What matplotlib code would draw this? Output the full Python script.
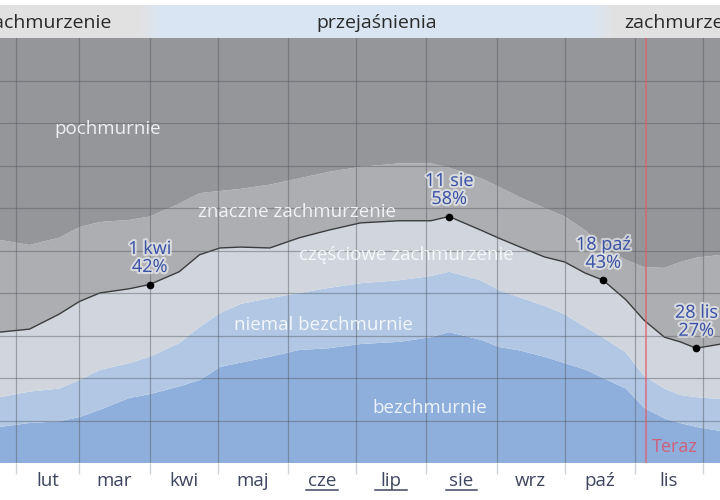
import numpy as np
import matplotlib.pyplot as plt
import matplotlib.patheffects as pe

# dane: dzien roku (0 = 1 sty) i granice pasm zachmurzenia w %
days = [24, 37, 50, 59, 68, 81, 90, 103, 112, 121, 130, 143, 156, 169, 183,
        200, 214, 222, 236, 244, 253, 264, 273, 282, 290, 300, 308, 317, 324, 331, 342]
clear = [8.5, 9.4, 9.8, 10.8, 12.5, 15.3, 16.2, 18, 19.5, 22.6, 23.6, 25, 26.6, 27, 28,
         28.5, 29.6, 30.8, 29, 27.3, 26.5, 25, 23.5, 22, 20, 17.5, 13, 10.5, 9.4, 8.5, 7.5]
mostly_clear = [15.5, 16.8, 17.5, 19.5, 21.9, 23.5, 25, 28.2, 32, 35.3, 37.4, 38.8, 40, 41.2, 42.3,
                43, 44, 45, 43, 40.7, 39, 37, 35, 32, 29.5, 26, 20.5, 17.5, 16, 15.5, 15]
partly = [30.8, 31.5, 35, 38, 40, 41, 42, 45, 49, 50.6, 50.8, 50.6, 53, 54.8, 56.5,
          57, 57, 58, 54.8, 52.9, 50.9, 48.5, 47.3, 44.7, 43, 38.4, 33.6, 29.6, 28.5, 27, 28]
mostly_cloudy = [52.5, 51.3, 53, 55.5, 56.7, 57.2, 58, 61, 63.5, 64, 64.5, 65.5, 67, 68.5, 69.7,
                 70.5, 70.5, 69.5, 67, 65, 62.6, 60, 58, 54.8, 50.8, 47.8, 46.1, 45.9, 47.3, 48.3, 49]

months = ['sty', 'lut', 'mar', 'kwi', 'maj', 'cze', 'lip', 'sie', 'wrz', 'paź', 'lis', 'gru']
month_start = [0, 31, 59, 90, 120, 151, 181, 212, 243, 273, 304, 334, 365]
summer = ['cze', 'lip', 'sie']

marks = [(90, 42, '1 kwi'), (222, 58, '11 sie'), (290, 43, '18 paź'), (331, 27, '28 lis')]
now_day = 309

plt.rcParams['font.family'] = ['Open Sans', 'DejaVu Sans']

fig = plt.figure(figsize=(7.2, 5), dpi=100)
ax = fig.add_axes([0, 0.074, 1, 0.85])
top = fig.add_axes([0, 0.924, 1, 0.066])
x0, x1 = 24, 341.5

x = np.array(days)
cols = ['#8eaedc', '#b1c7e4', '#d0d5de', '#acaeb2', '#94969a']
bounds = [np.zeros(len(x)), np.array(clear), np.array(mostly_clear),
          np.array(partly), np.array(mostly_cloudy), np.full(len(x), 100.0)]
for i in range(5):
    ax.fill_between(x, bounds[i], bounds[i + 1], color=cols[i], lw=0)

ax.plot(x, partly, color='#3c3c3c', lw=1)

for m in month_start:
    ax.axvline(m, color='#55595f', lw=0.9, alpha=0.45)
for g in range(10, 100, 10):
    ax.axhline(g, color='#55595f', lw=0.9, alpha=0.45)
ax.set_xticks(month_start)
ax.set_xticklabels([])
ax.tick_params(axis='x', length=8, color='#cfd3d8', width=1)
ax.set_yticks([])
for s in ax.spines.values():
    s.set_visible(False)

for i, m in enumerate(months):
    c = (month_start[i] + month_start[i + 1]) / 2
    if c < x0 or c > x1:
        continue
    ax.text(c, -4.2, m, ha='center', va='center', fontsize=13.5, color='#3d4660')
    if m in summer:
        ax.plot([c - 7, c + 7], [-6.3, -6.3], color='#3d4660', lw=1.1, clip_on=False)
ax.set_xlim(x0, x1)
ax.set_ylim(0, 100)

# etykiety pasm
lab = dict(color='white', alpha=0.85, fontsize=13.5, ha='center', va='center')
ax.text(71.5, 78.5, 'pochmurnie', **lab)
ax.text(155, 59, 'znaczne zachmurzenie', **lab)
ax.text(203, 49, 'częściowe zachmurzenie', **lab)
ax.text(166.5, 32.5, 'niemal bezchmurnie', **lab)
ax.text(213.5, 13, 'bezchmurnie', **lab)

halo = [pe.withStroke(linewidth=3, foreground='white', alpha=0.55)]
for d, v, name in marks:
    ax.plot(d, v, 'o', color='black', ms=4.5)
    ax.text(d, v + 2, name + '\n' + str(v) + '%', ha='center', va='bottom', fontsize=13,
            color='#3a52a6', linespacing=1.0, path_effects=halo)

ax.axvline(now_day, color='#e0606f', lw=1.2, alpha=0.8)
ax.text(now_day + 2.5, 3.8, 'Teraz', color='#d0607a', fontsize=13, va='center', ha='left')

# pasek u gory
grey = np.array([0.885, 0.885, 0.885])
blue = np.array([0.855, 0.90, 0.955])
xs = np.linspace(x0, x1, 600)
w = np.clip((xs - 85) / 10, 0, 1) * np.clip((295 - xs) / 10, 0, 1)
img = grey[None, :] * (1 - w[:, None]) + blue[None, :] * w[:, None]
top.imshow(img[None, :, :], extent=[x0, x1, 0, 1], aspect='auto')
top.set_xlim(x0, x1)
top.set_ylim(0, 1)
top.axis('off')
tl = dict(fontsize=14, color='#2a2a2a', ha='center', va='center')
top.text(45, 0.45, 'zachmurzenie', **tl)
top.text(190, 0.45, 'przejaśnienia', **tl)
top.text(327.5, 0.45, 'zachmurzenie', **tl)

fig.savefig('out.png', dpi=100)
